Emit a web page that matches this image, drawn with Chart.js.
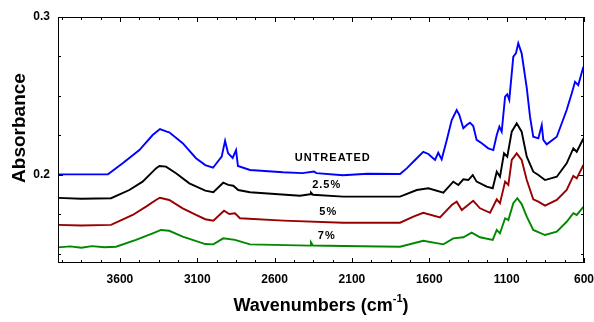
<!DOCTYPE html>
<html>
<head>
<meta charset="utf-8">
<script src="https://cdn.jsdelivr.net/npm/chart.js@4/dist/chart.umd.min.js"></script>
<style>
  html, body { margin: 0; padding: 0; background: #fff; }
  #wrap { width: 594px; height: 322px; }
</style>
</head>
<body>
<div id="wrap"><canvas id="chart"></canvas></div>
<script>
// FTIR spectra, wavenumber (cm-1) vs absorbance
const untreatedWn = [4000, 3850, 3677, 3582, 3474, 3388, 3341, 3297, 3281, 3194, 3108, 3048, 2998, 2942, 2920, 2901, 2871, 2849, 2837, 2759, 2546, 2420, 2345, 2330, 2158, 2000, 1789, 1746, 1692, 1639, 1606, 1563, 1542, 1520, 1487, 1455, 1423, 1406, 1380, 1358, 1337, 1316, 1294, 1261, 1219, 1186, 1164, 1147, 1132, 1110, 1096, 1083, 1057, 1040, 1025, 1003, 970, 949, 928, 895, 873, 863, 841, 776, 712, 679, 658, 637, 604];
const untreatedAbs = [0.2004, 0.2004, 0.2004, 0.2074, 0.2158, 0.2253, 0.2291, 0.2274, 0.2270, 0.2201, 0.2106, 0.2063, 0.2046, 0.2116, 0.2217, 0.2139, 0.2108, 0.2158, 0.2057, 0.2032, 0.2017, 0.2012, 0.2022, 0.2012, 0.1998, 0.2008, 0.2006, 0.2042, 0.2095, 0.2147, 0.2133, 0.2095, 0.2141, 0.2099, 0.2222, 0.2348, 0.2411, 0.2380, 0.2296, 0.2316, 0.2331, 0.2310, 0.2222, 0.2201, 0.2169, 0.2158, 0.2253, 0.2306, 0.2274, 0.2496, 0.2511, 0.2475, 0.2749, 0.2770, 0.2834, 0.2770, 0.2551, 0.2369, 0.2242, 0.2232, 0.2316, 0.2222, 0.2194, 0.2242, 0.2411, 0.2517, 0.2590, 0.2569, 0.2685];

const pct25Wn = [4000, 3850, 3657, 3539, 3453, 3367, 3345, 3302, 3237, 3151, 3048, 2996, 2932, 2899, 2867, 2835, 2759, 2436, 2371, 2365, 2352, 2158, 1789, 1681, 1606, 1509, 1445, 1412, 1380, 1348, 1319, 1294, 1229, 1190, 1164, 1143, 1117, 1096, 1067, 1035, 1003, 970, 928, 895, 852, 776, 712, 669, 647, 604];
const pct25Abs = [0.1855, 0.1850, 0.1853, 0.1905, 0.1958, 0.2042, 0.2057, 0.2053, 0.2011, 0.1947, 0.1901, 0.1891, 0.1951, 0.1937, 0.1932, 0.1905, 0.1891, 0.1869, 0.1878, 0.1888, 0.1875, 0.1863, 0.1863, 0.1905, 0.1916, 0.1888, 0.1958, 0.1937, 0.1973, 0.1968, 0.2000, 0.1958, 0.1926, 0.1916, 0.2021, 0.1989, 0.2137, 0.2116, 0.2274, 0.2327, 0.2274, 0.2116, 0.2021, 0.2000, 0.1968, 0.1989, 0.2074, 0.2169, 0.2147, 0.2231];

const pct5Wn = [4000, 3850, 3657, 3517, 3431, 3367, 3341, 3281, 3194, 3108, 3048, 2996, 2927, 2893, 2856, 2824, 2544, 2156, 1789, 1703, 1639, 1531, 1455, 1423, 1390, 1316, 1272, 1207, 1164, 1143, 1110, 1089, 1067, 1035, 1003, 970, 928, 895, 852, 776, 712, 669, 647, 604];
const pct5Abs = [0.1684, 0.1680, 0.1684, 0.1747, 0.1800, 0.1842, 0.1856, 0.1842, 0.1789, 0.1747, 0.1720, 0.1711, 0.1774, 0.1753, 0.1758, 0.1726, 0.1711, 0.1698, 0.1698, 0.1736, 0.1761, 0.1732, 0.1810, 0.1831, 0.1778, 0.1837, 0.1789, 0.1761, 0.1846, 0.1821, 0.1958, 0.1937, 0.2095, 0.2137, 0.2095, 0.1968, 0.1846, 0.1831, 0.1806, 0.1842, 0.1905, 0.1994, 0.1979, 0.2063];

const pct7Wn = [4000, 3920, 3850, 3780, 3700, 3625, 3496, 3388, 3334, 3281, 3194, 3048, 2996, 2932, 2856, 2759, 2371, 2365, 2352, 2156, 1789, 1639, 1509, 1445, 1380, 1326, 1272, 1190, 1164, 1143, 1110, 1089, 1057, 1031, 1003, 970, 928, 852, 776, 712, 669, 647, 604];
const pct7Abs = [0.1542, 0.1548, 0.1540, 0.1550, 0.1543, 0.1546, 0.1589, 0.1631, 0.1652, 0.1647, 0.1610, 0.1563, 0.1561, 0.1599, 0.1589, 0.1561, 0.1553, 0.1574, 0.1554, 0.1551, 0.1546, 0.1584, 0.1561, 0.1599, 0.1606, 0.1635, 0.1606, 0.1589, 0.1652, 0.1631, 0.1726, 0.1715, 0.1821, 0.1853, 0.1816, 0.1736, 0.1652, 0.1620, 0.1641, 0.1704, 0.1758, 0.1747, 0.1799];

const seriesNames = ['UNTREATED', '2.5%', '5%', '7%'];
const seriesColors = ['#0000ff', '#000000', '#990000', '#008800'];
const labelWn = [2224, 2263, 2253, 2263];
const labelAbs = [0.2106, 0.1937, 0.1764, 0.1614];

const xTicks = [3600, 3100, 2600, 2100, 1600, 1100, 600];
const yTicks = [0.2, 0.3];
const xMinorStep = 125;
const yMinorStep = 0.025;

const toPoints = (wn, ab) => wn.map((w, i) => ({ x: w, y: ab[i] }));
const seriesData = [
    toPoints(untreatedWn, untreatedAbs),
    toPoints(pct25Wn, pct25Abs),
    toPoints(pct5Wn, pct5Abs),
    toPoints(pct7Wn, pct7Abs)
];

// box, inward ticks, axis titles and curve labels
const decorations = {
    id: 'decorations',
    afterDatasetsDraw(chart) {
        const { ctx, chartArea: a, scales: { x, y } } = chart;
        ctx.save();
        ctx.strokeStyle = '#000';
        ctx.lineWidth = 1;
        ctx.strokeRect(a.left + 0.5, a.top + 0.5, a.right - a.left - 1, a.bottom - a.top - 1);

        ctx.beginPath();
        for (let w = x.min; w <= x.max; w += xMinorStep) {
            const px = Math.round(x.getPixelForValue(w)) + 0.5;
            const len = xTicks.includes(w) ? 5 : 3;
            ctx.moveTo(px, a.bottom); ctx.lineTo(px, a.bottom - len);
            ctx.moveTo(px, a.top); ctx.lineTo(px, a.top + len);
        }
        for (let k = 0; ; k++) {
            const v = y.max - k * yMinorStep;
            if (v < y.min) break;
            const py = Math.round(y.getPixelForValue(v)) + 0.5;
            const len = k % 4 === 0 ? 5 : 3;
            ctx.moveTo(a.left, py); ctx.lineTo(a.left + len, py);
            ctx.moveTo(a.right, py); ctx.lineTo(a.right - len, py);
        }
        ctx.stroke();

        ctx.fillStyle = '#000';
        ctx.textBaseline = 'middle';
        ctx.textAlign = 'center';
        ctx.letterSpacing = '1px';
        ctx.font = 'bold 11px Arial';
        seriesNames.forEach((name, i) => {
            ctx.fillText(name, x.getPixelForValue(labelWn[i]), y.getPixelForValue(labelAbs[i]));
        });
        ctx.letterSpacing = '0px';

        // y title
        ctx.save();
        ctx.translate(20, (a.top + a.bottom) / 2 - 12);
        ctx.rotate(-Math.PI / 2);
        ctx.font = 'bold 19px Arial';
        ctx.fillText('Absorbance', 0, 0);
        ctx.restore();

        // x title with superscript
        const main = 'Wavenumbers (cm';
        const sup = '-1';
        const tail = ')';
        ctx.textAlign = 'left';
        ctx.textBaseline = 'alphabetic';
        ctx.font = 'bold 18px Arial';
        const w1 = ctx.measureText(main).width;
        const w3 = ctx.measureText(tail).width;
        ctx.font = 'bold 11px Arial';
        const w2 = ctx.measureText(sup).width;
        let tx = (a.left + a.right) / 2 - (w1 + w2 + w3) / 2;
        const ty = 311;
        ctx.font = 'bold 18px Arial';
        ctx.fillText(main, tx, ty);
        tx += w1;
        ctx.font = 'bold 11px Arial';
        ctx.fillText(sup, tx, ty - 9);
        tx += w2;
        ctx.font = 'bold 18px Arial';
        ctx.fillText(tail, tx, ty);
        ctx.restore();
    }
};

const tickFont = { family: 'Arial', weight: 'bold', size: 12 };

new Chart(document.getElementById('chart'), {
    type: 'line',
    data: {
        datasets: seriesData.map((d, i) => ({
            label: seriesNames[i],
            data: d,
            borderColor: seriesColors[i],
            borderWidth: 1.9,
            pointRadius: 0,
            tension: 0,
            fill: false
        }))
    },
    options: {
        responsive: true,
        maintainAspectRatio: false,
        animation: false,
        layout: { padding: { top: 17, right: 10, left: 0, bottom: 0 } },
        plugins: { legend: { display: false }, tooltip: { enabled: false } },
        scales: {
            x: {
                type: 'linear',
                reverse: true,
                min: 600,
                max: 4000,
                grid: { display: false, drawTicks: false },
                border: { display: false },
                afterBuildTicks: s => { s.ticks = xTicks.map(v => ({ value: v })); },
                afterFit: s => { s.height = 59; s.paddingLeft = 0; s.paddingRight = 0; },
                ticks: {
                    font: tickFont,
                    color: '#000',
                    padding: 9,
                    maxRotation: 0,
                    autoSkip: false,
                    callback: v => String(v)
                }
            },
            y: {
                min: 0.1443,
                max: 0.3,
                grid: { display: false, drawTicks: false },
                border: { display: false },
                afterBuildTicks: s => { s.ticks = yTicks.map(v => ({ value: v })); },
                afterFit: s => { s.width = 58; s.paddingTop = 0; s.paddingBottom = 0; },
                ticks: {
                    font: tickFont,
                    color: '#000',
                    padding: 8,
                    callback: v => v.toFixed(1)
                }
            }
        }
    },
    plugins: [decorations]
});
</script>
</body>
</html>
